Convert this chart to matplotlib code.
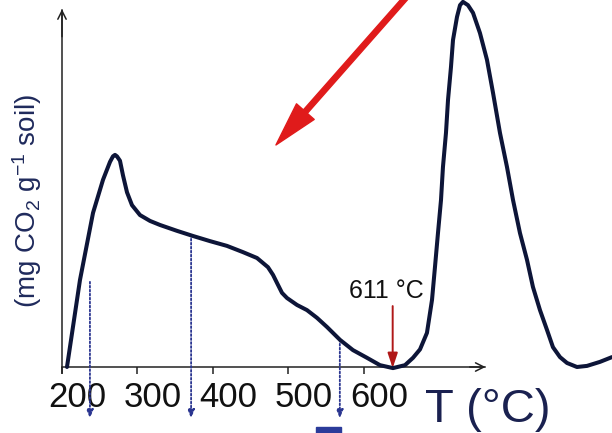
import matplotlib
matplotlib.use("Agg")
import matplotlib.pyplot as plt

plt.rcParams['font.family'] = ['Liberation Sans', 'DejaVu Sans']
plt.rcParams['mathtext.fontset'] = 'custom'
plt.rcParams['mathtext.rm'] = 'Liberation Sans'
plt.rcParams['mathtext.it'] = 'Liberation Sans:italic'

# thermogram (T in deg C, signal in relative units)
temperature = [206.6, 223.8, 241.1, 254.3, 263.6, 267.5, 270.2, 272.8, 276.8,
               280.8, 286.1, 292.7, 303.3, 316.6, 329.8, 352.3, 373.5, 396.0,
               418.5, 439.7, 449.0, 458.3, 472.8, 479.5, 484.8, 491.4, 498.0,
               511.3, 524.5, 537.7, 551.0, 568.2, 585.4, 604.0, 621.2, 638.4,
               654.3, 664.9, 674.2, 683.4, 690.1, 694.0, 698.0, 702.0, 704.6,
               708.6, 711.3, 715.2, 717.9, 723.2, 727.2, 731.1, 737.7, 744.4,
               753.6, 762.9, 770.9, 780.1, 789.4, 797.4, 806.6, 815.9, 823.8,
               833.1, 842.4, 850.3, 859.6, 868.9, 882.1, 895.4, 912.6, 928.5]
signal = [0.0, 0.237, 0.420, 0.510, 0.559, 0.574, 0.578, 0.574, 0.562,
          0.522, 0.476, 0.441, 0.414, 0.398, 0.387, 0.371, 0.357, 0.343,
          0.330, 0.313, 0.305, 0.297, 0.272, 0.251, 0.229, 0.202, 0.188,
          0.169, 0.155, 0.134, 0.109, 0.074, 0.046, 0.025, 0.005, -0.003,
          0.005, 0.025, 0.048, 0.093, 0.183, 0.272, 0.365, 0.455, 0.545,
          0.638, 0.728, 0.817, 0.891, 0.954, 0.986, 0.995, 0.986, 0.965,
          0.910, 0.837, 0.747, 0.638, 0.545, 0.455, 0.365, 0.292, 0.218,
          0.155, 0.101, 0.054, 0.027, 0.011, 0.0, 0.003, 0.014, 0.027]

tick_values = [200, 300, 400, 500, 600]
tick_labels = ["200", "300", "400", "500", "600"]

# dotted markers down to the axis: (T, start level)
marker_t = [237, 371, 568]
marker_start = [0.232, 0.360, 0.074]

peak_label = "611 \u00b0C"

navy = "#0d1538"
label_navy = "#1f2a5c"
dot_blue = "#2a3590"

fig = plt.figure(figsize=(6.12, 4.33), dpi=100)
ax = fig.add_axes([62 / 612, 66 / 433, 550 / 612, 367 / 433])
ax.set_xlim(200, 928.5)
ax.set_ylim(0, 1)

ax.plot(temperature, signal, color=navy, lw=2.9, solid_capstyle='round',
        solid_joinstyle='round', clip_on=False, zorder=5)

# axes with arrow heads
for side in ["top", "right"]:
    ax.spines[side].set_visible(False)
ax.spines["left"].set_bounds(-0.017, 0.972)
ax.spines["bottom"].set_bounds(200, 760)
for side in ["left", "bottom"]:
    ax.spines[side].set_linewidth(1.1)
    ax.spines[side].set_color("#222222")
ax.annotate("", xy=(761, 0), xytext=(740, 0),
            arrowprops=dict(arrowstyle="->,head_length=0.6,head_width=0.3",
                            lw=1.1, color="#222222", mutation_scale=10,
                            shrinkA=0, shrinkB=0), annotation_clip=False)
ax.annotate("", xy=(200, 0.975), xytext=(200, 0.9),
            arrowprops=dict(arrowstyle="->,head_length=0.6,head_width=0.3",
                            lw=1.1, color="#222222", mutation_scale=10,
                            shrinkA=0, shrinkB=0), annotation_clip=False)

ax.set_yticks([])
ax.set_xticks(tick_values)
ax.set_xticklabels(tick_labels, fontsize=25, color="#111111")
ax.tick_params(axis="x", length=5, width=1.1, color="#222222", pad=5)
offset = matplotlib.transforms.ScaledTranslation(0.15, 0, fig.dpi_scale_trans)
for lbl in ax.get_xticklabels():
    lbl.set_transform(lbl.get_transform() + offset)

# dotted arrows
for t, y0 in zip(marker_t, marker_start):
    ax.annotate("", xy=(t, -0.14), xytext=(t, y0),
                arrowprops=dict(arrowstyle="-|>,head_length=0.5,head_width=0.2",
                                lw=1.3, ls=(0, (1, 1.2)), color=dot_blue,
                                mutation_scale=10, shrinkA=0, shrinkB=0),
                annotation_clip=False)

# red marker for the minimum
ax.annotate("", xy=(638, -0.003), xytext=(638, 0.166),
            arrowprops=dict(arrowstyle="-|>,head_length=0.9,head_width=0.3",
                            lw=1.4, color="#b01818", mutation_scale=10,
                            shrinkA=0, shrinkB=0),
            annotation_clip=False, zorder=6)
ax.text(630, 0.188, peak_label, fontsize=18, ha="center", va="baseline",
        color="#111111")

# big red arrow
ax.annotate("", xy=(483.4, 0.605), xytext=(657, 1.01),
            arrowprops=dict(arrowstyle="simple,head_length=1.6,head_width=0.85,tail_width=0.19",
                            color="#e01b1b", mutation_scale=20,
                            shrinkA=0, shrinkB=0),
            annotation_clip=False)

# small cut-off blue mark at the bottom
ax.add_patch(plt.Rectangle((535.8, -0.185), 34.4, 0.022, color="#2b3b9a",
                           clip_on=False))

fig.text(27 / 612, 1 - 201 / 433, r"(mg CO$_2$ g$^{-1}$ soil)", rotation=90,
         ha="center", va="center", fontsize=20, color=label_navy)
fig.text(425 / 612, 1 - 422 / 433, "T (\u00b0C)", ha="left", va="baseline",
         fontsize=34, color="#1a2150")

fig.savefig("out.png", dpi=100)
